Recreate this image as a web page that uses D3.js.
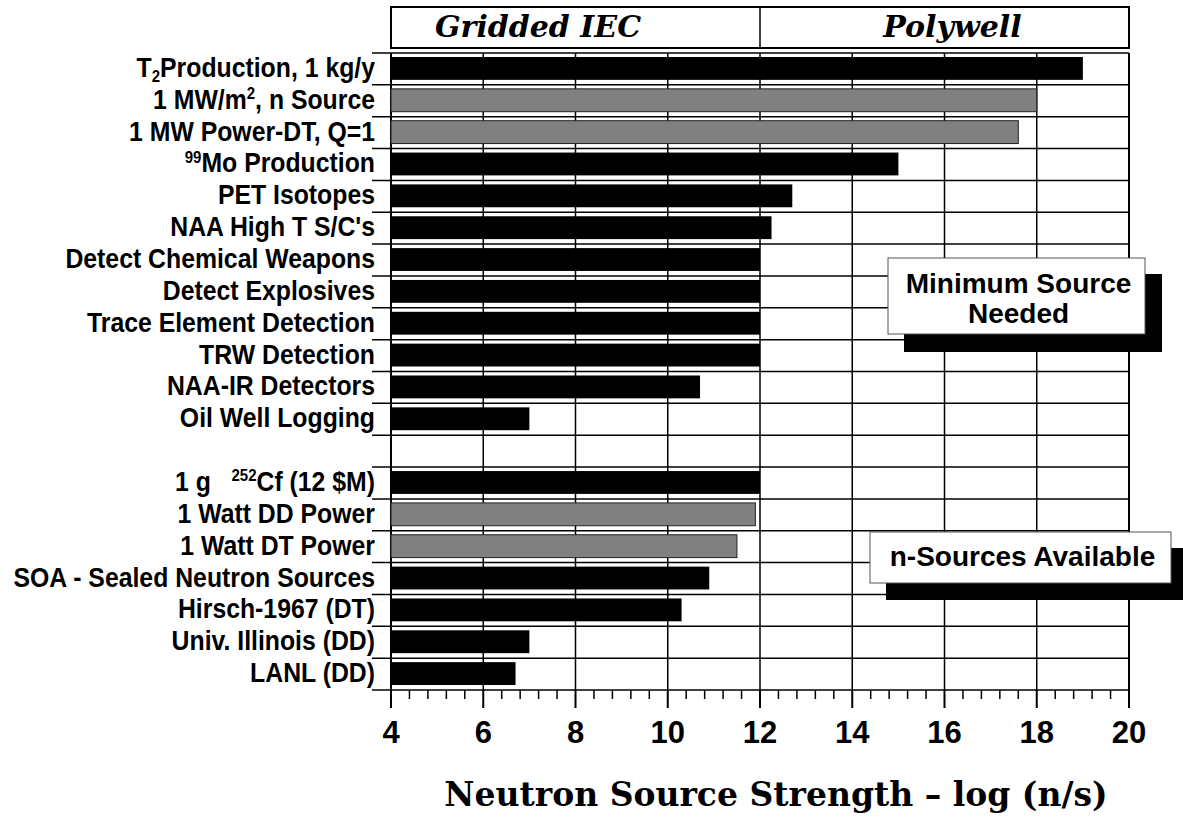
<!DOCTYPE html>
<html><head><meta charset="utf-8">
<script src="https://cdn.jsdelivr.net/npm/d3@7"></script>
<style>body{margin:0;background:#fff}svg{display:block}</style>
</head><body>
<svg id="c" width="1183" height="819"></svg>
<script>
// Labels (markup: _{x} subscript, ^{x} superscript); "" = empty spacer row
const categories = [
  "T_{2}Production, 1 kg/y",
  "1 MW/m^{2}, n Source",
  "1 MW Power-DT, Q=1",
  "^{99}Mo Production",
  "PET Isotopes",
  "NAA High T S/C's",
  "Detect Chemical Weapons",
  "Detect Explosives",
  "Trace Element Detection",
  "TRW Detection",
  "NAA-IR Detectors",
  "Oil Well Logging",
  "",
  "1 g   ^{252}Cf (12 $M)",
  "1 Watt DD Power",
  "1 Watt DT Power",
  "SOA - Sealed Neutron Sources",
  "Hirsch-1967 (DT)",
  "Univ. Illinois (DD)",
  "LANL (DD)"
];
const values = [19.0, 18.0, 17.6, 15.0, 12.7, 12.25, 12.0, 12.0, 12.0, 12.0, 10.7, 7.0, null,
                12.0, 11.9, 11.5, 10.9, 10.3, 7.0, 6.7];
const kinds = ["black","gray","gray","black","black","black","black","black","black","black","black","black",null,
               "black","gray","gray","black","black","black","black"];
const xTicks = [4, 6, 8, 10, 12, 14, 16, 18, 20];
const headers = ["Gridded IEC", "Polywell"];
const legendNeeded = ["Minimum Source", "Needed"];
const legendAvail = ["n-Sources Available"];
const xTitle = "Neutron Source Strength \u2013 log (n/s)";

const svg = d3.select("#c");
const L = 391, R = 1129, T = 53, B = 690;
const x = d3.scaleLinear().domain([4, 20]).range([L, R]);
const idx = d3.range(categories.length);
const y = d3.scaleBand().domain(idx).range([T, B]).paddingInner(0).paddingOuter(0);
const bw = y.bandwidth();

const labelFont = "'Liberation Sans', Arial, sans-serif";
const serif = "'DejaVu Serif', 'Liberation Serif', serif";

// Header box
const hb = svg.append("g");
hb.append("rect").attr("x", L).attr("y", 7).attr("width", R - L).attr("height", 41)
  .attr("fill", "#fff").attr("stroke", "#000").attr("stroke-width", 2);
hb.append("line").attr("x1", x(12)).attr("x2", x(12)).attr("y1", 7).attr("y2", 48)
  .attr("stroke", "#000").attr("stroke-width", 1.5);
hb.append("text").attr("x", 435).attr("y", 37).text(headers[0])
  .attr("font-family", serif).attr("font-weight", "bold").attr("font-style", "italic")
  .attr("font-size", 30).attr("fill", "#000");
hb.append("text").attr("x", (x(12) + R) / 2 + 8).attr("y", 37).attr("text-anchor", "middle").text(headers[1])
  .attr("font-family", serif).attr("font-weight", "bold").attr("font-style", "italic")
  .attr("font-size", 30).attr("fill", "#000");

// Grid: horizontal row boundaries
const bounds = d3.range(categories.length + 1).map(i => T + i * bw);
svg.append("g").selectAll("line").data(bounds).join("line")
  .attr("x1", 372).attr("x2", R).attr("y1", d => d).attr("y2", d => d)
  .attr("stroke", "#000").attr("stroke-width", 1.5);
// vertical grid
svg.append("g").selectAll("line").data(xTicks).join("line")
  .attr("x1", d => x(d)).attr("x2", d => x(d)).attr("y1", T).attr("y2", B)
  .attr("stroke", "#000").attr("stroke-width", d => (d === 4 || d === 20) ? 2 : 1.5);

// Bars
const pad = 4;
svg.append("g").selectAll("rect").data(idx.filter(i => values[i] != null)).join("rect")
  .attr("x", x(4))
  .attr("y", i => y(i) + pad)
  .attr("width", i => x(values[i]) - x(4))
  .attr("height", bw - 2 * pad - 1)
  .attr("fill", i => kinds[i] === "gray" ? "#808080" : "#000")
  .attr("stroke", i => kinds[i] === "gray" ? "#222" : "none")
  .attr("stroke-width", 1);

// Bottom axis ticks
const minor = d3.range(4, 20.001, 0.4).filter(v => Math.abs(v / 2 - Math.round(v / 2)) > 0.01);
svg.append("g").selectAll("line").data(minor).join("line")
  .attr("x1", d => x(d)).attr("x2", d => x(d)).attr("y1", B).attr("y2", B + 9)
  .attr("stroke", "#000").attr("stroke-width", 1.5);
svg.append("g").selectAll("line").data(xTicks).join("line")
  .attr("x1", d => x(d)).attr("x2", d => x(d)).attr("y1", B).attr("y2", B + 18)
  .attr("stroke", "#000").attr("stroke-width", 2);
svg.append("g").selectAll("text").data(xTicks).join("text")
  .attr("transform", d => `translate(${x(d)},743) scale(1,1.03)`).attr("text-anchor", "middle")
  .attr("font-family", labelFont).attr("font-weight", "bold").attr("font-size", 31)
  .text(d => d);

// Category labels with sub/superscripts
function parts(s) {
  const out = []; const re = /([_^])\{([^}]*)\}/g; let last = 0, m;
  while ((m = re.exec(s))) {
    if (m.index > last) out.push({t: s.slice(last, m.index), k: "n"});
    out.push({t: m[2], k: m[1] === "_" ? "sub" : "sup"});
    last = re.lastIndex;
  }
  if (last < s.length) out.push({t: s.slice(last), k: "n"});
  return out;
}
const lab = svg.append("g");
idx.forEach(i => {
  if (!categories[i]) return;
  const t = lab.append("text")
    .attr("transform", `translate(375,${y(i) + bw / 2 + 8}) scale(1,1.09)`)
    .attr("text-anchor", "end").attr("font-family", labelFont).attr("font-weight", "bold")
    .attr("font-size", 24.8).style("white-space", "pre").attr("fill", "#000");
  let shift = 0;
  parts(categories[i]).forEach(p => {
    const target = p.k === "sup" ? -9 : p.k === "sub" ? 5 : 0;
    t.append("tspan").attr("dy", target - shift).attr("font-size", p.k === "n" ? 24.8 : 15).text(p.t);
    shift = target;
  });
});

// Legend boxes with shadows
function legendBox(bx, by, w, h, sx, sy, sw, sh, lines, ty, lh, fs) {
  const g = svg.append("g");
  g.append("rect").attr("x", sx).attr("y", sy).attr("width", sw).attr("height", sh).attr("fill", "#000");
  g.append("rect").attr("x", bx).attr("y", by).attr("width", w).attr("height", h)
    .attr("fill", "#fff").attr("stroke", "#555").attr("stroke-width", 1);
  lines.forEach((l, k) => g.append("text").attr("x", bx + w / 2 + 2).attr("y", ty + k * lh)
    .attr("text-anchor", "middle").attr("font-family", labelFont).attr("font-weight", "bold")
    .attr("font-size", fs).text(l));
}
legendBox(888, 258, 257, 76, 904, 274, 258, 78, legendNeeded, 293, 30, 28);
legendBox(870, 532, 301, 51, 886, 548, 300, 52, legendAvail, 566, 0, 28);

// X title
svg.append("text").attr("x", 776).attr("y", 806).attr("text-anchor", "middle")
  .attr("font-family", serif).attr("font-weight", "bold").attr("font-size", 33)
  .text(xTitle);
</script>
</body></html>
